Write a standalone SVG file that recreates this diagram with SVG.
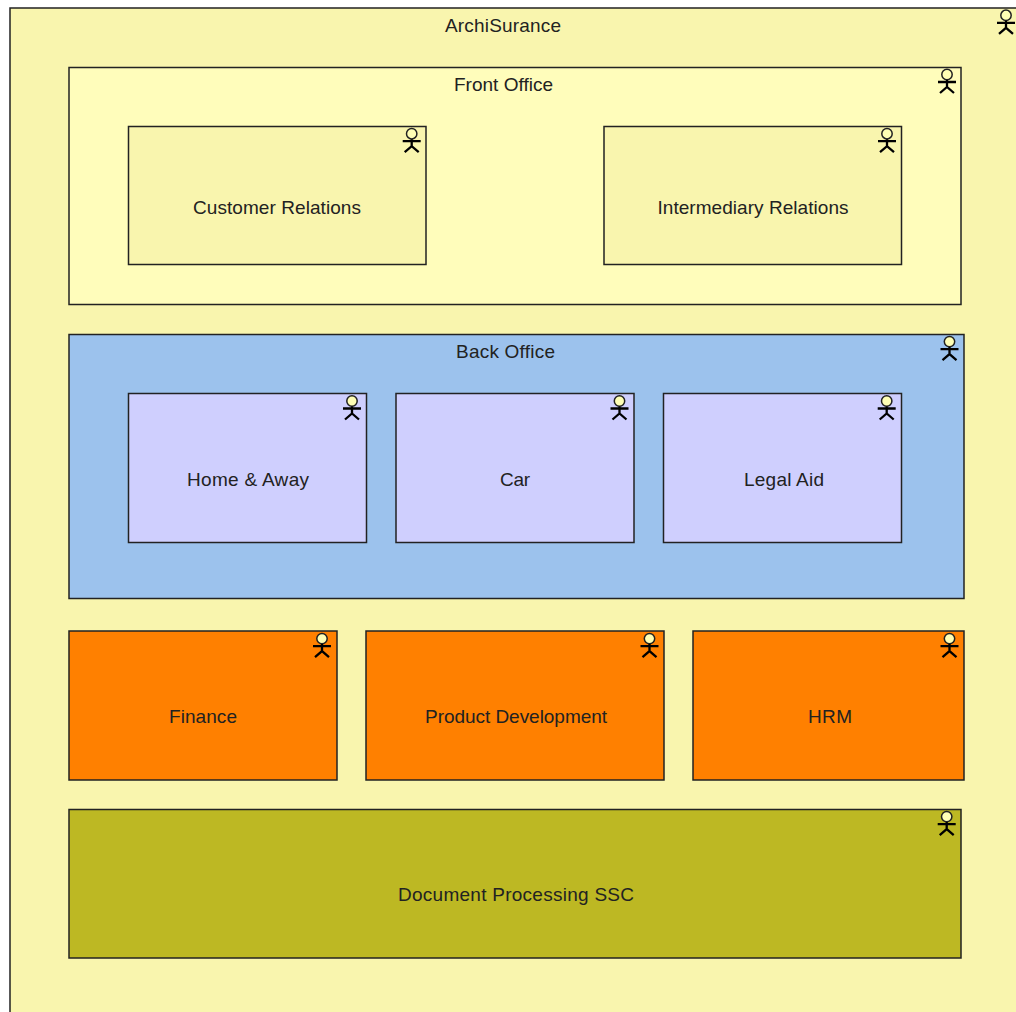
<svg xmlns="http://www.w3.org/2000/svg" xmlns:xlink="http://www.w3.org/1999/xlink" width="1016" height="1012" viewBox="0 0 1016 1012">
<style>
.box{stroke:#222;stroke-width:1.5}
.t{font-family:"Liberation Sans",Arial,sans-serif;font-size:19px;fill:#222;text-anchor:start}
.a{fill:none;stroke:#000;stroke-width:2.3}
.h{fill:#ffffb5;stroke:#222;stroke-width:1.5}
</style>
<defs>
<g id="actor">
<circle class="h" cx="0" cy="15" r="5.2"/>
<path class="a" d="M0 20.500V28M-9 22.500H9M-7 33.500L0 27.500L7 33.500"/>
</g>
</defs>
<rect width="1016" height="1012" fill="#fff"/>
<g id="connectors"></g>
<g id="archisurance"><rect class="box" x="10" y="8" width="1010" height="1010" fill="#f9f5ae"/><text class="t" x="445" y="32" textLength="116">ArchiSurance</text><use xlink:href="#actor" x="1006" y="0.300"/></g>
<g id="front-office"><rect class="box" x="69" y="67.500" width="892" height="237" fill="#fffdbb"/><text class="t" x="454" y="91" textLength="99">Front Office</text><use xlink:href="#actor" x="947" y="59.500"/></g>
<g id="customer-relations"><rect class="box" x="128.500" y="126.500" width="297.500" height="138" fill="#f9f5ae"/><text class="t" x="193" y="214" textLength="168">Customer Relations</text><use xlink:href="#actor" x="411.700" y="118.700"/></g>
<g id="intermediary-relations"><rect class="box" x="604" y="126.500" width="297.500" height="138" fill="#f9f5ae"/><text class="t" x="657.500" y="214" textLength="191">Intermediary Relations</text><use xlink:href="#actor" x="887" y="118.700"/></g>
<g id="back-office"><rect class="box" x="69" y="334.500" width="895" height="264" fill="#9cc2ed"/><text class="t" x="456" y="358" textLength="99">Back Office</text><use xlink:href="#actor" x="949.500" y="326.600"/></g>
<g id="home-away"><rect class="box" x="128.500" y="393.500" width="238" height="149" fill="#cfcffe"/><text class="t" x="187" y="486" textLength="122">Home &amp; Away</text><use xlink:href="#actor" x="352" y="386"/></g>
<g id="car"><rect class="box" x="396" y="393.500" width="238" height="149" fill="#cfcffe"/><text class="t" x="500" y="486" textLength="30">Car</text><use xlink:href="#actor" x="619.500" y="386"/></g>
<g id="legal-aid"><rect class="box" x="663.500" y="393.500" width="238" height="149" fill="#cfcffe"/><text class="t" x="744" y="486" textLength="80">Legal Aid</text><use xlink:href="#actor" x="886.700" y="386"/></g>
<g id="finance"><rect class="box" x="69" y="631" width="268" height="149" fill="#ff8000"/><text class="t" x="169" y="723" textLength="68">Finance</text><use xlink:href="#actor" x="322" y="623.600"/></g>
<g id="product-development"><rect class="box" x="366" y="631" width="298" height="149" fill="#ff8000"/><text class="t" x="425" y="723" textLength="182">Product Development</text><use xlink:href="#actor" x="649.500" y="623.600"/></g>
<g id="hrm"><rect class="box" x="693" y="631" width="271" height="149" fill="#ff8000"/><text class="t" x="808" y="723" textLength="44">HRM</text><use xlink:href="#actor" x="949.500" y="623.600"/></g>
<g id="document-processing-ssc"><rect class="box" x="69" y="809.500" width="892" height="148.500" fill="#bdb823"/><text class="t" x="398" y="901" textLength="236">Document Processing SSC</text><use xlink:href="#actor" x="946.700" y="801.600"/></g>
</svg>
